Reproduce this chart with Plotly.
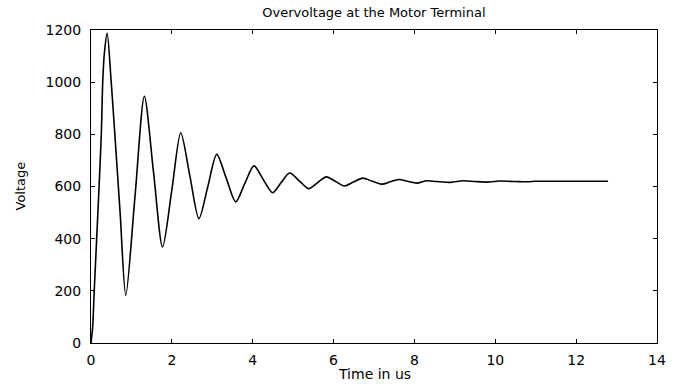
import plotly.graph_objects as go

# Time (us) and voltage
time_us = [0.0, 0.04, 0.08, 0.20, 0.255, 0.29, 0.33, 0.40, 0.50, 0.59, 0.72, 0.86,
           1.09, 1.32, 1.545, 1.77,
           2.00, 2.22, 2.445, 2.67, 2.89, 3.11, 3.345, 3.58, 3.80, 4.03, 4.26, 4.49,
           4.70, 4.91, 5.15, 5.38, 5.60, 5.82, 6.04, 6.26, 6.49, 6.72, 6.96, 7.20,
           7.40, 7.61, 7.85, 8.06, 8.30, 8.55, 8.90, 9.20, 9.50, 9.85, 10.10, 10.50,
           10.80, 11.00, 11.50, 12.00, 12.79]
voltage = [0, 60, 200, 600, 800, 1000, 1110, 1187, 1000, 800, 500, 183,
           565, 946, 657, 368,
           587, 806, 641, 477, 600, 723, 632, 541, 610, 679, 627, 576,
           614, 652, 622, 592, 614, 637, 620, 602, 617, 632, 620, 609,
           618, 627, 619, 613, 622, 619, 616, 622, 619, 617, 621, 619,
           618, 620, 620, 620, 620]

x_ticks = [0, 2, 4, 6, 8, 10, 12, 14]
y_ticks = [0, 200, 400, 600, 800, 1000, 1200]

title_text = "Overvoltage at the Motor Terminal"
x_title = "Time in us"
y_title = "Voltage"

fig = go.Figure()
fig.add_trace(go.Scatter(
    x=time_us, y=voltage, mode="lines",
    line=dict(color="black", width=1.6, shape="spline", smoothing=0.8),
    hoverinfo="skip", showlegend=False,
))

axis_common = dict(
    showline=True, linecolor="black", linewidth=1, mirror="ticks",
    ticks="inside", ticklen=4, tickcolor="black", tickwidth=1,
    showgrid=False, zeroline=False,
    tickfont=dict(family="DejaVu Sans", size=14, color="black"),
)

fig.update_layout(
    width=678, height=385,
    margin=dict(l=91, r=21, t=30, b=42),
    paper_bgcolor="white", plot_bgcolor="white",
    title=dict(text=title_text, x=0.5515, xanchor="center", y=1 - 12 / 385,
               yanchor="middle", yref="container",
               font=dict(family="DejaVu Sans", size=13, color="black")),
    xaxis=dict(range=[0, 14], tickvals=x_ticks, ticktext=[str(v) for v in x_ticks],
               ticklabelstandoff=4, **axis_common),
    yaxis=dict(range=[0, 1200], tickvals=y_ticks, ticktext=[str(v) for v in y_ticks],
               ticklabelstandoff=6, **axis_common),
    annotations=[
        dict(text=x_title, xref="paper", yref="paper", x=0.5, y=-31 / 313,
             xanchor="center", yanchor="middle", showarrow=False,
             font=dict(family="DejaVu Sans", size=14, color="black")),
        dict(text=y_title, xref="paper", yref="paper", x=-71 / 566, y=0.5,
             xanchor="center", yanchor="middle", showarrow=False, textangle=-90,
             font=dict(family="DejaVu Sans", size=13, color="black")),
    ],
)

fig.write_html("out.html")
